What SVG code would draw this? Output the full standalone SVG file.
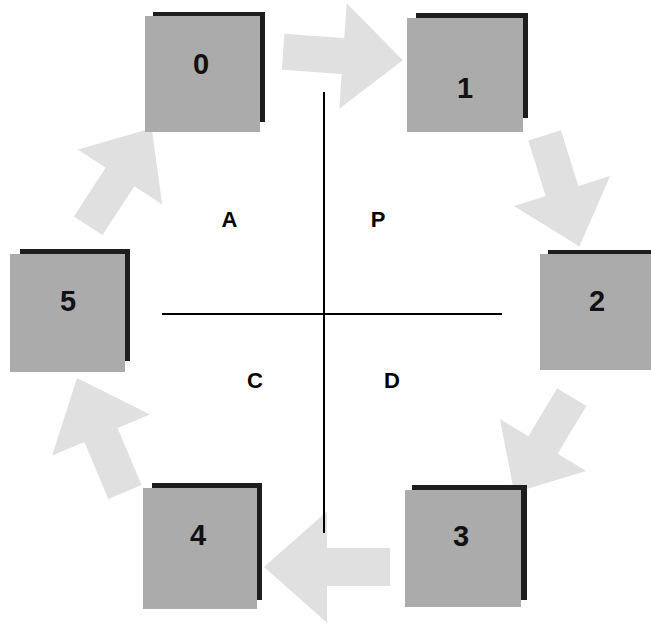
<svg xmlns="http://www.w3.org/2000/svg" width="651" height="632" viewBox="0 0 651 632">
<style>
.shadow{fill:#1e1e1e}
.face{fill:#ababab}
.num{font-family:"Liberation Sans",Arial,sans-serif;font-weight:bold;font-size:29px;fill:#111;text-anchor:middle}
.lab{font-family:"Liberation Sans",Arial,sans-serif;font-weight:bold;font-size:22px;fill:#000;text-anchor:middle}
.arrow{fill:#e0e0e0}
.axis{stroke:#000;stroke-width:2;fill:none}
</style>
<defs>
<path id="blk" d="M-60,-18 L0,-18 L0,-53 L60,0 L0,53 L0,18 L-60,18 Z"/>
</defs>
<rect width="651" height="632" fill="#fff"/>
<g id="connectors">
<use href="#blk" class="arrow" transform="translate(343,56) rotate(4)"/>
<use href="#blk" class="arrow" transform="translate(562,191) rotate(72.6) scale(0.97,0.95)"/>
<use href="#blk" class="arrow" transform="translate(543,445) rotate(121) scale(0.93,0.95)"/>
<use href="#blk" class="arrow" transform="translate(327,567) rotate(180) scale(1.05,1.05)"/>
<use href="#blk" class="arrow" transform="translate(101,435) rotate(-112.8) scale(1.03,1)"/>
<use href="#blk" class="arrow" transform="translate(120,177) rotate(-56.9) scale(0.97,0.95)"/>
</g>
<g id="axes">
<line class="axis" x1="324" y1="92" x2="324" y2="533"/>
<line class="axis" x1="162" y1="314" x2="502" y2="314"/>
</g>
<g id="node0">
<rect class="shadow" x="153" y="12" width="112" height="110"/>
<rect class="face" x="145" y="16" width="115" height="116"/>
<text class="num" x="201" y="74">0</text>
</g>
<g id="node1">
<rect class="shadow" x="416" y="13" width="112" height="105"/>
<rect class="face" x="407" y="18" width="116" height="114"/>
<text class="num" x="465" y="98">1</text>
</g>
<g id="node2">
<rect class="shadow" x="548" y="250" width="110" height="110"/>
<rect class="face" x="540" y="254" width="115" height="116"/>
<text class="num" x="597" y="311">2</text>
</g>
<g id="node3">
<rect class="shadow" x="412" y="485" width="115" height="115"/>
<rect class="face" x="405" y="490" width="116" height="117"/>
<text class="num" x="461" y="546">3</text>
</g>
<g id="node4">
<rect class="shadow" x="152" y="483" width="110" height="117"/>
<rect class="face" x="143" y="488" width="114" height="121"/>
<text class="num" x="198" y="545">4</text>
</g>
<g id="node5">
<rect class="shadow" x="20" y="249" width="110" height="112"/>
<rect class="face" x="10" y="254" width="115" height="118"/>
<text class="num" x="68" y="311">5</text>
</g>
<g id="labels">
<text class="lab" x="229.5" y="227">A</text>
<text class="lab" x="378" y="227">P</text>
<text class="lab" x="255" y="388">C</text>
<text class="lab" x="392" y="388">D</text>
</g>
</svg>
